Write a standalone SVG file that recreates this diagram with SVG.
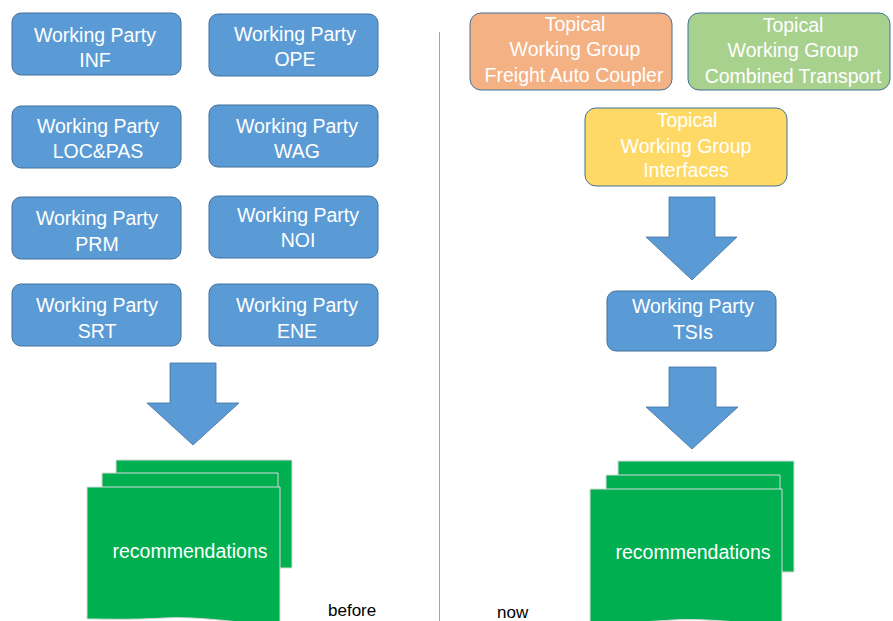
<svg xmlns="http://www.w3.org/2000/svg" width="893" height="621" viewBox="0 0 893 621">
<style>
.wp{fill:#5B9BD5;stroke:#41719C;stroke-width:1}
.t{font-family:"Liberation Sans",Arial,sans-serif;font-size:19.5px;fill:#fff;text-anchor:middle}
.arr{fill:#5B9BD5;stroke:#41719C;stroke-width:0.8}
.doc{fill:#00B050;stroke:#d9d9d9;stroke-width:1}
.lbl{font-family:"Liberation Sans",Arial,sans-serif;font-size:17px;fill:#000}
</style>
<rect width="893" height="621" fill="#fff"/>
<g id="wp-inf"><rect class="wp" x="12" y="13" width="169" height="62" rx="9"/><text class="t" x="95" y="42">Working Party</text><text class="t" x="95" y="67">INF</text></g>
<g id="wp-ope"><rect class="wp" x="209" y="14" width="169" height="62" rx="9"/><text class="t" x="295" y="41">Working Party</text><text class="t" x="295" y="66">OPE</text></g>
<g id="wp-locpas"><rect class="wp" x="12" y="106" width="169" height="62" rx="9"/><text class="t" x="98" y="133">Working Party</text><text class="t" x="98" y="158">LOC&amp;PAS</text></g>
<g id="wp-wag"><rect class="wp" x="209" y="105" width="169" height="62" rx="9"/><text class="t" x="297" y="133">Working Party</text><text class="t" x="297" y="158">WAG</text></g>
<g id="wp-prm"><rect class="wp" x="12" y="197" width="169" height="62" rx="9"/><text class="t" x="97" y="225">Working Party</text><text class="t" x="97" y="251">PRM</text></g>
<g id="wp-noi"><rect class="wp" x="209" y="196" width="169" height="62" rx="9"/><text class="t" x="298" y="222">Working Party</text><text class="t" x="298" y="247">NOI</text></g>
<g id="wp-srt"><rect class="wp" x="12" y="284" width="169" height="62" rx="9"/><text class="t" x="97" y="312">Working Party</text><text class="t" x="97" y="338">SRT</text></g>
<g id="wp-ene"><rect class="wp" x="209" y="284" width="169" height="62" rx="9"/><text class="t" x="297" y="312">Working Party</text><text class="t" x="297" y="338">ENE</text></g>

<g id="twg-fac"><rect x="470" y="13" width="202" height="77" rx="11" fill="#F4B183" stroke="#41719C" stroke-width="1"/><text class="t" x="575" y="31">Topical</text><text class="t" x="575" y="56">Working Group</text><text class="t" x="574" y="82">Freight Auto Coupler</text></g>
<g id="twg-ct"><rect x="688" y="13" width="202" height="77" rx="11" fill="#A9D18E" stroke="#41719C" stroke-width="1"/><text class="t" x="793" y="32">Topical</text><text class="t" x="793" y="57">Working Group</text><text class="t" x="793" y="83">Combined Transport</text></g>
<g id="twg-if"><rect x="585" y="108" width="202" height="78" rx="11" fill="#FFD966" stroke="#41719C" stroke-width="1"/><text class="t" x="687" y="127">Topical</text><text class="t" x="686" y="153">Working Group</text><text class="t" x="686" y="177">Interfaces</text></g>
<g id="wp-tsis"><rect class="wp" x="607" y="291" width="169" height="60" rx="9"/><text class="t" x="693" y="313">Working Party</text><text class="t" x="693" y="339">TSIs</text></g>

<g id="rec-before">
<path class="doc" d="M116,460 H292 V568 H116 Z"/>
<path class="doc" d="M102,473 H278 V585 H102 Z"/>
<path class="doc" d="M87,487 H280 V625 C235,623 200,616 165,618 C130,620 110,619 87,619 Z"/>
<text class="t" x="190" y="558">recommendations</text>
</g>
<g id="rec-now">
<path class="doc" d="M618,461 H794 V572 H618 Z"/>
<path class="doc" d="M606,475 H780 V588 H606 Z"/>
<path class="doc" d="M590,489 H782 V625 C740,623 705,618 673,620 C640,622 615,624 590,624 Z"/>
<text class="t" x="693" y="559">recommendations</text>
</g>

<g id="connectors">
<path class="arr" d="M170,363 H216 V403 H239 L193,445 L147,403 H170 Z"/>
<path class="arr" d="M669,197 H715 V237 H737 L692,280 L646,237 H669 Z"/>
<path class="arr" d="M669,367 H716 V407 H738 L692,449 L646,407 H669 Z"/>
</g>

<line x1="439.5" y1="32" x2="439.5" y2="621" stroke="#a6a6a6" stroke-width="1"/>
<text class="lbl" x="328" y="616">before</text>
<text class="lbl" x="497" y="618">now</text>
</svg>
